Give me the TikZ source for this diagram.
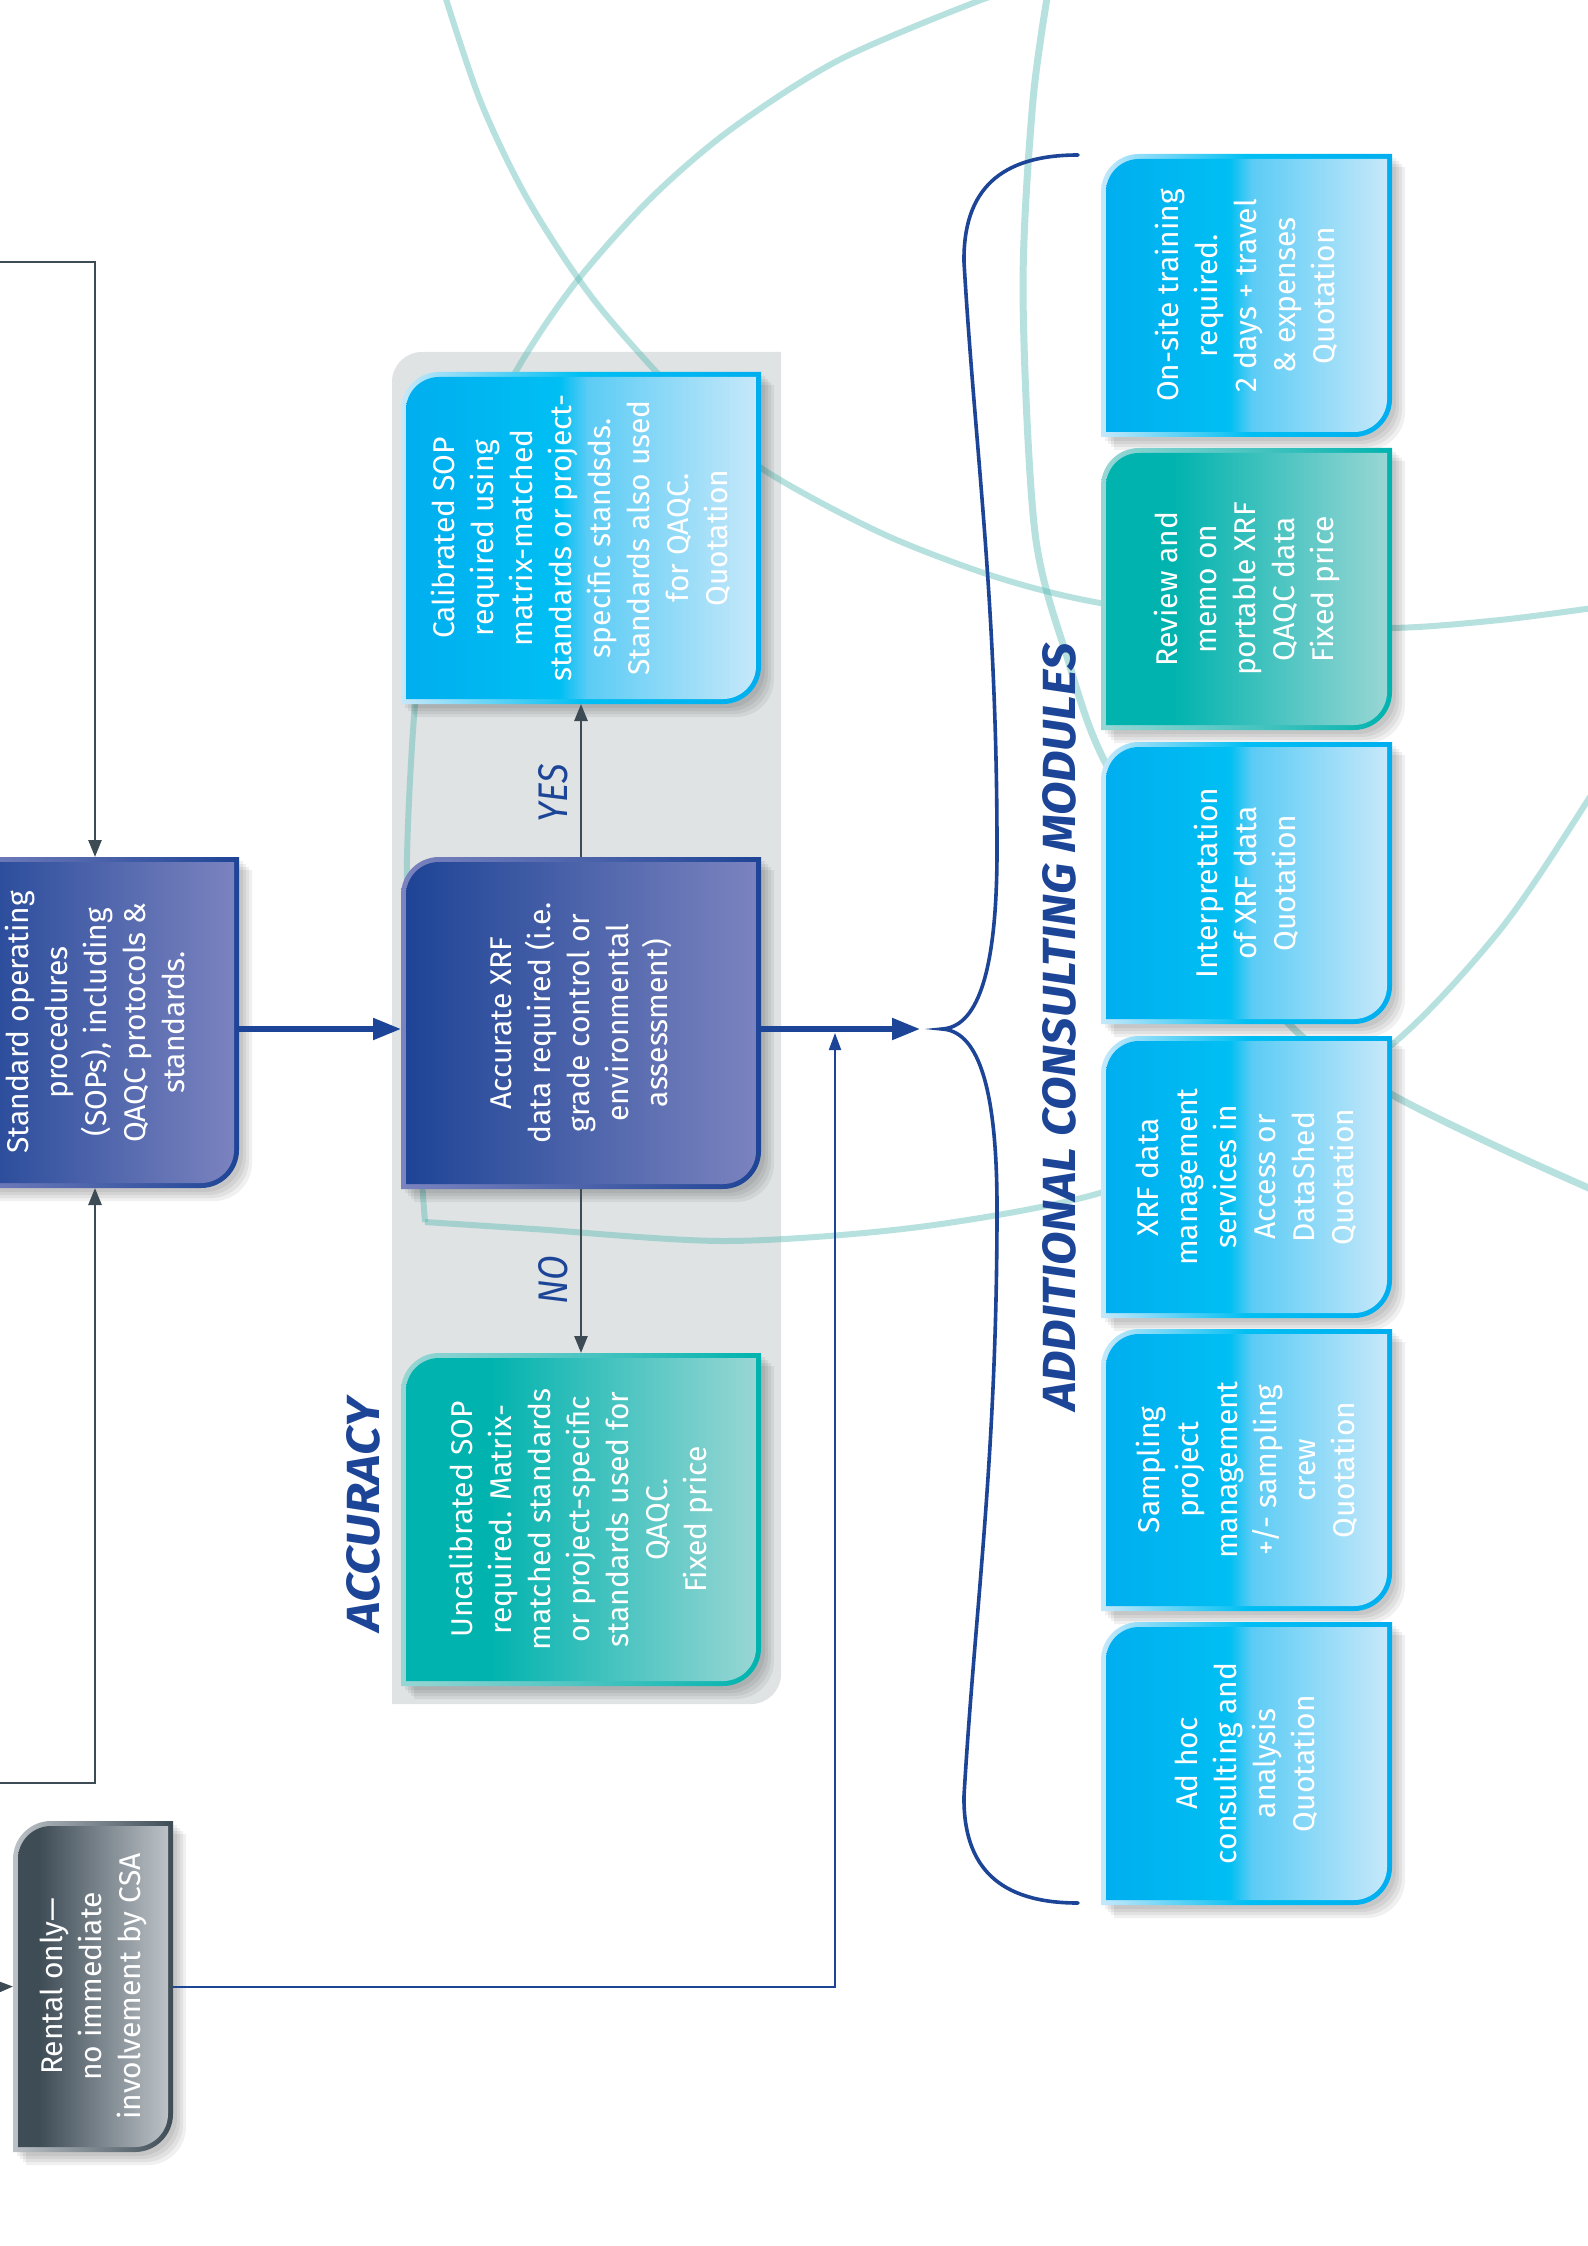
\documentclass[tikz,border=0pt]{standalone}
\usepackage{fontspec}
\setmainfont{Fira Sans}
\usepackage{graphicx}
\usetikzlibrary{arrows.meta,calc,fit}

\definecolor{navyA}{HTML}{1E4496}
\definecolor{navyB}{HTML}{7B83BF}
\definecolor{cyanA}{HTML}{00AEEF}
\definecolor{cyanM}{HTML}{00BFF3}
\definecolor{cyanN}{HTML}{5CCCF5}
\definecolor{cyanB}{HTML}{C6E8FA}
\definecolor{tealA}{HTML}{00B3AE}
\definecolor{tealB}{HTML}{98D6D4}
\definecolor{slateA}{HTML}{3E4C56}
\definecolor{slateB}{HTML}{BCC2C7}
\definecolor{panelgray}{HTML}{DFE3E4}
\definecolor{arcteal}{HTML}{4DB6AF}
\definecolor{linkslate}{HTML}{3D4B55}
\definecolor{brandblue}{HTML}{1D4597}

\pgfdeclarehorizontalshading{navyfill}{100bp}{color(0bp)=(navyA); color(25bp)=(navyA); color(75bp)=(navyB); color(100bp)=(navyB)}
\pgfdeclarehorizontalshading{navyedge}{100bp}{color(0bp)=(navyB); color(25bp)=(navyB); color(75bp)=(navyA); color(100bp)=(navyA)}
\pgfdeclarehorizontalshading{cyanfill}{100bp}{color(0bp)=(cyanA); color(25bp)=(cyanA); color(47bp)=(cyanM); color(51bp)=(cyanN); color(75bp)=(cyanB); color(100bp)=(cyanB)}
\pgfdeclarehorizontalshading{cyanedge}{100bp}{color(0bp)=(cyanB); color(25bp)=(cyanB); color(50bp)=(cyanM); color(75bp)=(cyanA); color(100bp)=(cyanA)}
\pgfdeclarehorizontalshading{tealfill}{100bp}{color(0bp)=(tealA); color(25bp)=(tealA); color(37bp)=(tealA); color(75bp)=(tealB); color(100bp)=(tealB)}
\pgfdeclarehorizontalshading{tealedge}{100bp}{color(0bp)=(tealB); color(25bp)=(tealB); color(75bp)=(tealA); color(100bp)=(tealA)}
\pgfdeclarehorizontalshading{slatefill}{100bp}{color(0bp)=(slateA); color(25bp)=(slateA); color(32bp)=(slateA); color(75bp)=(slateB); color(100bp)=(slateB)}
\pgfdeclarehorizontalshading{slateedge}{100bp}{color(0bp)=(slateB); color(25bp)=(slateB); color(75bp)=(slateA); color(100bp)=(slateA)}

\tikzset{
  boxshape/.style n args={3}{insert path={
    ($(#1.north west)+(#2,#2+#3)$)
    .. controls ($(#1.north west)+(#2,#2+0.45*#3)$) and ($(#1.north west)+(#2+0.45*#3,#2)$) ..
    ($(#1.north west)+(#2+#3,#2)$)
    -- ($(#1.north east)+(-#2,#2)$)
    -- ($(#1.south east)+(-#2,-#2-#3)$)
    .. controls ($(#1.south east)+(-#2,-#2-0.45*#3)$) and ($(#1.south east)+(-#2-0.45*#3,-#2)$) ..
    ($(#1.south east)+(-#2-#3,-#2)$)
    -- ($(#1.south west)+(#2,-#2)$) -- cycle}},
  boxframe/.style={inner sep=0pt,outer sep=0pt,draw=none},
  boxtext/.style={rotate=90,text=white,align=center,inner sep=0pt,
    font=\fontsize{15pt}{19.5pt}\selectfont},
  arcline/.style={draw=arcteal,opacity=0.4,line width=3pt,line join=round},
  slatelink/.style={draw=linkslate,line width=1.3pt,-{Triangle[length=8.5pt,width=6.5pt]}},
  mainlink/.style={draw=brandblue,line width=2.6pt,-{Triangle[length=14pt,width=10.5pt]}},
  thinlink/.style={draw=brandblue,line width=1pt,-{Triangle[length=8.5pt,width=6pt]}},
  bluelabel/.style={rotate=90,text=brandblue,inner sep=0pt},
}

\newcommand{\paintbox}[3]{%
  \foreach \s in {2,3.5,5,6.5}{\fill[black,opacity=0.06,transform canvas={shift={(\s pt,-\s pt)}}] [boxshape={#1}{0}{38}];}%
  \shade[shading=#3] [boxshape={#1}{0}{38}];%
  \shade[shading=#2] [boxshape={#1}{5}{33}];%
}

\begin{document}
\begin{tikzpicture}[x=0.5pt,y=-0.5pt]
\useasboundingbox (0,0) rectangle (1588,2246);
\fill[white] (0,0) rectangle (1588,2246);

% ---------- frames ----------
\node[boxframe,fit={(392,352) (781,1704)}] (panel) {};
\node[boxframe,fit={(-49,857) (239,1188)}] (sop) {};
\node[boxframe,fit={(13,1821) (173,2152)}] (rental) {};
\node[boxframe,fit={(401,857) (761,1189)}] (acc) {};
\node[boxframe,fit={(401,372) (761,704)}] (cal) {};
\node[boxframe,fit={(401,1353) (761,1686)}] (unc) {};
\node[boxframe,fit={(1101,154) (1392,437)}] (m1) {};
\node[boxframe,fit={(1101,448) (1392,730)}] (m2) {};
\node[boxframe,fit={(1101,742) (1392,1024)}] (m3) {};
\node[boxframe,fit={(1101,1036) (1392,1318)}] (m4) {};
\node[boxframe,fit={(1101,1329) (1392,1611)}] (m5) {};
\node[boxframe,fit={(1101,1622) (1392,1905)}] (m6) {};

% ---------- grey panel ----------
\fill[panelgray] [boxshape={panel}{0}{30}];

% ---------- decorative arcs ----------
\draw[arcline] plot[smooth] coordinates {(440,-20) (480,100) (528,200) (594,300) (683,400) (761,468) (881,533) (996,577) (1100,603) (1250,622) (1389,628) (1500,620) (1600,607)};
\draw[arcline] plot[smooth] coordinates {(1035,-15) (981,0) (839,60) (730,130) (649,200) (573,286) (515,373) (463,480) (430,600) (415,705) (407,858) (410,1000) (416,1100) (425,1222)};
\draw[arcline] plot[smooth] coordinates {(425,1222) (534,1229) (727,1241) (919,1227) (1100,1193) (1250,1130) (1389,1047) (1500,930) (1588,800) (1620,745)};
\draw[arcline,line width=3.5pt] plot[smooth] coordinates {(1050,-20) (1033,100) (1023,291) (1035,533) (1068,660) (1104,760) (1190,900) (1295,1030) (1389,1093) (1500,1148) (1600,1193)};

% ---------- boxes ----------
\paintbox{sop}{navyfill}{navyedge}
\paintbox{acc}{navyfill}{navyedge}
\paintbox{rental}{slatefill}{slateedge}
\paintbox{cal}{cyanfill}{cyanedge}
\paintbox{unc}{tealfill}{tealedge}
\paintbox{m1}{cyanfill}{cyanedge}
\paintbox{m2}{tealfill}{tealedge}
\paintbox{m3}{cyanfill}{cyanedge}
\paintbox{m4}{cyanfill}{cyanedge}
\paintbox{m5}{cyanfill}{cyanedge}
\paintbox{m6}{cyanfill}{cyanedge}

% ---------- box texts ----------
\node[boxtext] (t-sop) at (sop.center) {Standard operating\\procedures\\(SOPs), including\\QAQC protocols \&\\standards.};
\node[boxtext] (t-rental) at (rental.center) {Rental only—\\no immediate\\involvement by CSA};
\node[boxtext] (t-acc) at (acc.center) {Accurate XRF\\data required (i.e.\\grade control or\\environmental\\assessment)};
\node[boxtext] (t-cal) at (cal.center) {Calibrated SOP\\required using\\matrix-matched\\standards or project-\\specific standsds.\\Standards also used\\for QAQC.\\Quotation};
\node[boxtext] (t-unc) at (unc.center) {Uncalibrated SOP\\required. Matrix-\\matched standards\\or project-specific\\standards used for\\QAQC.\\Fixed price};
\node[boxtext] (t-m1) at (m1.center) {On-site training\\required.\\2 days + travel\\\& expenses\\Quotation};
\node[boxtext] (t-m2) at (m2.center) {Review and\\memo on\\portable XRF\\QAQC data\\Fixed price};
\node[boxtext] (t-m3) at (m3.center) {Interpretation\\of XRF data\\Quotation};
\node[boxtext] (t-m4) at (m4.center) {XRF data\\management\\services in\\Access or\\DataShed\\Quotation};
\node[boxtext] (t-m5) at (m5.center) {Sampling\\project\\management\\+/- sampling\\crew\\Quotation};
\node[boxtext] (t-m6) at (m6.center) {Ad hoc\\consulting and\\analysis\\Quotation};

% ---------- connectors ----------
\coordinate (tl) at (-4,262);
\coordinate (bl) at (-4,1783);
\coordinate (rl) at (-4,1987);
\coordinate (mainy) at (0,1029);
\coordinate (arrowend) at (920,1029);
\coordinate (upend) at (835,1033);
\coordinate (bracetip) at (942,1029);

\draw[slatelink] (tl) -| (sop.north);
\draw[slatelink] (bl) -| (sop.south);
\draw[slatelink] (rl) -- (rental.west);
\draw[mainlink] (sop.east |- mainy) -- (acc.west |- mainy);
\draw[mainlink] (acc.east |- mainy) -- (arrowend);
\draw[thinlink] (rental.east) -| (upend);
\draw[slatelink] (acc.north) -- (cal.south);
\draw[slatelink] (acc.south) -- (unc.north);

% ---------- brace ----------
\draw[brandblue,line width=1.8pt,line cap=round]
  (1078,155) .. controls (1000,155) and (963,190) .. (964,262)
  .. controls (975,450) and (997,600) .. (997,850)
  .. controls (997,980) and (975,1027) .. (bracetip)
  .. controls (975,1031) and (997,1078) .. (997,1208)
  .. controls (997,1458) and (975,1608) .. (964,1796)
  .. controls (963,1868) and (1000,1903) .. (1078,1903);

% ---------- labels ----------
\node[bluelabel] (l-yes) at (553,793) {\resizebox{29pt}{14.5pt}{\itshape YES}};
\node[bluelabel] (l-no) at (553,1280) {\resizebox{24.5pt}{14.5pt}{\itshape NO}};
\node[bluelabel] (l-acc) at (363,1515) {\resizebox{116.5pt}{16.5pt}{\bfseries\itshape ACCURACY}};
\node[bluelabel] (l-mod) at (1059,1027) {\resizebox{383.5pt}{16.5pt}{\bfseries\itshape ADDITIONAL CONSULTING MODULES}};
\end{tikzpicture}
\end{document}
